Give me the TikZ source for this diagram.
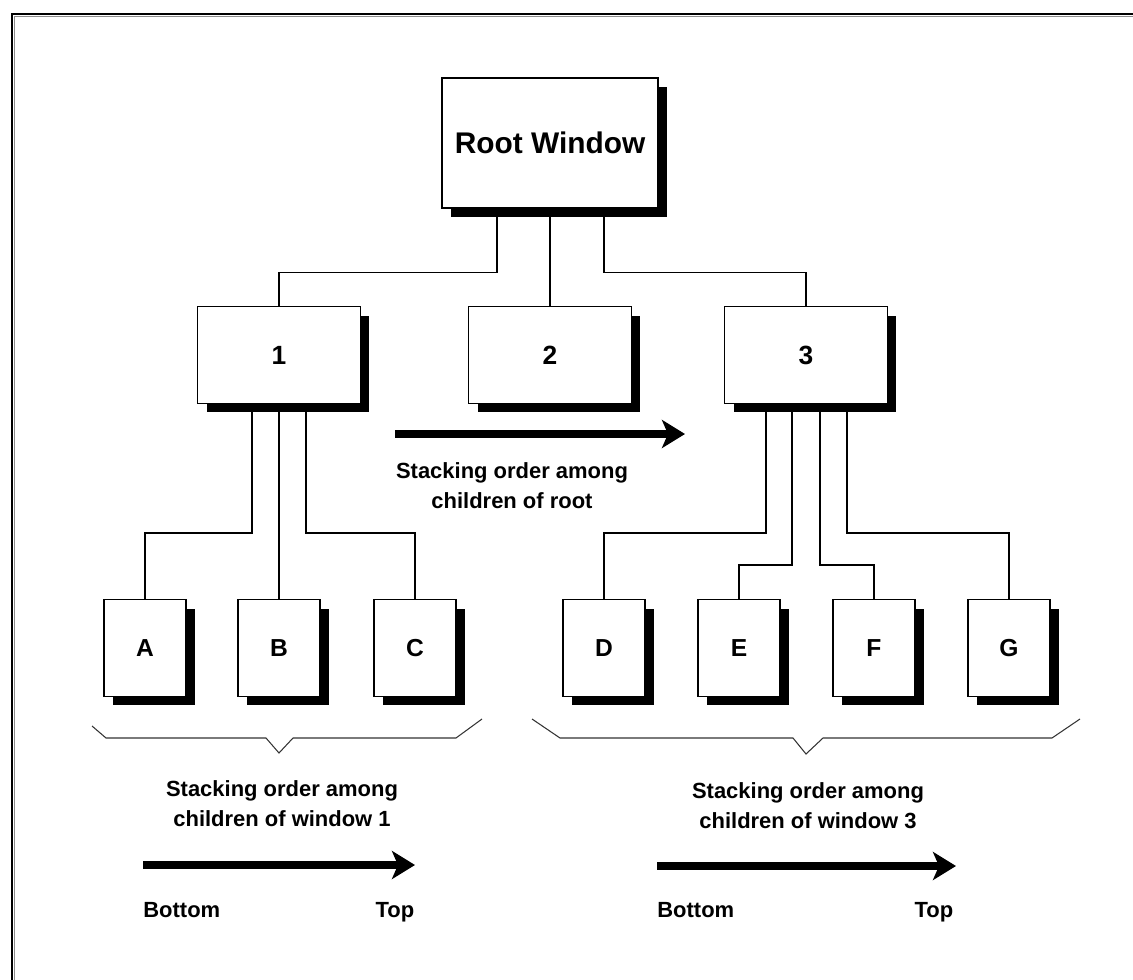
\documentclass[tikz,border=0pt]{standalone}
\usepackage{fontspec}
\setmainfont{Liberation Sans}
\usetikzlibrary{arrows.meta,calc,shadows}

\tikzset{
  win/.style={draw, fill=white, line width=0.8pt, inner sep=0pt,
    drop shadow={shadow xshift=0.18cm, shadow yshift=-0.18cm, fill=black, opacity=1}},
  rootwin/.style={win, minimum width=4.32cm, minimum height=2.6cm,
    font=\bfseries\fontsize{17}{20}\selectfont},
  midwin/.style={win, minimum width=3.26cm, minimum height=1.94cm,
    font=\bfseries\fontsize{15}{18}\selectfont},
  leafwin/.style={win, minimum width=1.64cm, minimum height=1.94cm,
    font=\bfseries\fontsize{14}{17}\selectfont},
  conn/.style={line width=0.8pt},
  brace/.style={line width=0.6pt, black!80},
  order/.style={line width=4.5pt, -{Stealth[length=0.46cm, width=0.56cm, inset=0.12cm]}},
  lbl/.style={font=\bfseries\fontsize{12.5}{17}\selectfont, align=center, inner sep=0pt}
}

\begin{document}
\begin{tikzpicture}[x=0.02cm, y=-0.02cm]
\useasboundingbox (0,0) rectangle (1133,980);
% frame
\draw[line width=1.1pt] (12,980) -- (12,14) -- (1133,14);
\draw[black!45, line width=0.8pt] (14.5,980) -- (14.5,16.5) -- (1133,16.5);

% windows
\node[rootwin] (root) at (550,143) {Root Window};
\foreach \n/\x/\t in {n1/279/1, n2/550/2, n3/806/3}
  \node[midwin] (\n) at (\x,355) {\t};
\foreach \n/\x/\t in {a/145/A, b/279/B, c/415/C, d/604/D, e/739/E, f/874/F, g/1009/G}
  \node[leafwin] (\n) at (\x,648) {\t};

% hierarchy
\draw[conn] ($(root.south)+(-53,0)$) -- ++(0,64) -| (n1.north);
\draw[conn] (root.south) -- (n2.north);
\draw[conn] ($(root.south)+(54,0)$) -- ++(0,64) -| (n3.north);
\draw[conn] ($(n1.south)+(-27,0)$) -- ++(0,129) -| (a.north);
\draw[conn] (n1.south) -- (b.north);
\draw[conn] ($(n1.south)+(27,0)$) -- ++(0,129) -| (c.north);
\draw[conn] ($(n3.south)+(-40,0)$) -- ++(0,129) -| (d.north);
\draw[conn] ($(n3.south)+(-14,0)$) -- ++(0,161) -| (e.north);
\draw[conn] ($(n3.south)+(14,0)$) -- ++(0,161) -| (f.north);
\draw[conn] ($(n3.south)+(41,0)$) -- ++(0,129) -| (g.north);

% braces
\draw[brace] (92,726) -- (106,738) -- (266,738) -- (279,753) -- (293,738) -- (456,738) -- (482,719);
\draw[brace] (532,719) -- (560,738) -- (793,738) -- (806,754) -- (823,738) -- (1052,738) -- (1080,719);

% stacking order arrows
\coordinate (rootlo) at (395,434);
\coordinate (roothi) at (685,434);
\draw[order] (rootlo) -- (roothi);
\node[lbl] (rootlbl) at (512,486) {Stacking order among\\children of root};

\node[lbl] (onelbl) at (282,804) {Stacking order among\\children of window 1};
\coordinate (onelo) at (143,865);
\coordinate (onehi) at (415,865);
\draw[order] (onelo) -- (onehi);
\node[lbl, anchor=base west] (onebot) at (143,917) {Bottom};
\node[lbl, anchor=base] (onetop) at (395,917) {Top};

\node[lbl] (threelbl) at (808,806) {Stacking order among\\children of window 3};
\coordinate (threelo) at (657,866);
\coordinate (threehi) at (956,866);
\draw[order] (threelo) -- (threehi);
\node[lbl, anchor=base west] (threebot) at (657,917) {Bottom};
\node[lbl, anchor=base] (threetop) at (934,917) {Top};
\end{tikzpicture}
\end{document}
